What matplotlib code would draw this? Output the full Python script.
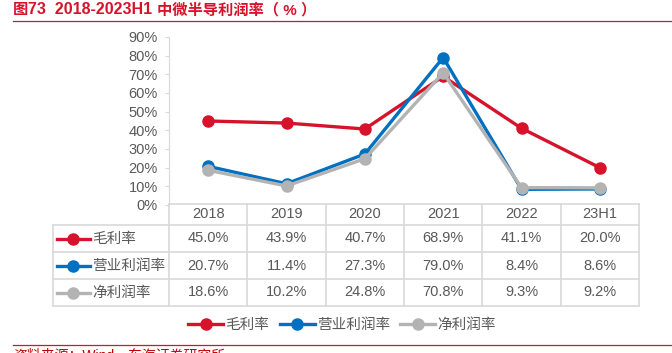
import matplotlib
matplotlib.use("Agg")
import matplotlib.pyplot as plt
from matplotlib.lines import Line2D

plt.rcParams['font.family'] = ['Liberation Sans', 'Noto Sans CJK SC', 'DejaVu Sans']

years = ['2018', '2019', '2020', '2021', '2022', '23H1']
series_names = ['毛利率', '营业利润率', '净利润率']
gross = [45.0, 43.9, 40.7, 68.9, 41.1, 20.0]
operating = [20.7, 11.4, 27.3, 79.0, 8.4, 8.6]
net = [18.6, 10.2, 24.8, 70.8, 9.3, 9.2]
colors = ['#D7132B', '#0070C0', '#B3B3B3']
yticks = [0, 10, 20, 30, 40, 50, 60, 70, 80, 90]

W, H = 672, 353
fig = plt.figure(figsize=(W / 100, H / 100), dpi=100)
txt = '#595959'
grid = '#D9D9D9'
fs = 10.5

# chart area
ax = fig.add_axes([169 / W, 1 - 205 / H, 470 / W, 168 / H])
x = list(range(len(years)))
for vals, c, name in zip([gross, operating, net], colors, series_names):
    ax.plot(x, vals, color=c, lw=2.4, marker='o', ms=8, label=name, zorder=3)
ax.set_xlim(-0.5, len(years) - 0.5)
ax.set_ylim(0, 90)
ax.set_yticks(yticks)
ax.set_yticklabels([f'{v}%' for v in yticks])
ax.tick_params(axis='y', labelsize=fs, colors=txt, length=3, width=0.8, color=grid, pad=5)
ax.tick_params(axis='x', bottom=False, labelbottom=False)
for s in ['top', 'right', 'bottom']:
    ax.spines[s].set_visible(False)
ax.spines['left'].set_color(grid)
ax.patch.set_alpha(0)

# data table below, sharing the category scale
tax = fig.add_axes([53 / W, 1 - 306 / H, 586 / W, 102 / H])
tax.set_xlim(-0.5 - 116 / 78.33, len(years) - 0.5)
rows = [204, 225, 252, 279, 306]
tax.set_ylim(rows[-1], rows[0])
tax.axis('off')
left = tax.get_xlim()[0]
right = len(years) - 0.5
kw = dict(color=grid, lw=1.2, clip_on=False)
tax.plot([-0.5, right], [rows[0], rows[0]], **kw)
for r in rows[1:]:
    tax.plot([left, right], [r, r], **kw)
for i in range(len(years) + 1):
    tax.plot([i - 0.5, i - 0.5], [rows[0], rows[-1]], **kw)
tax.plot([left, left], [rows[1], rows[-1]], **kw)
for i, yr in enumerate(years):
    tax.text(i, (rows[0] + rows[1]) / 2, yr, ha='center', va='center', fontsize=fs, color=txt)
for k, (vals, c, name) in enumerate(zip([gross, operating, net], colors, series_names)):
    yc = (rows[k + 1] + rows[k + 2]) / 2
    for i, v in enumerate(vals):
        tax.text(i, yc, f'{v:.1f}%', ha='center', va='center', fontsize=fs, color=txt)
    tax.plot([left + 0.05, left + 0.47], [yc, yc], color=c, lw=2.4, clip_on=False)
    tax.plot([left + 0.26], [yc], 'o', color=c, ms=8, clip_on=False)
    tax.text(left + 0.5, yc, name, ha='left', va='center', fontsize=fs, color=txt)

# legend
handles = [Line2D([0], [0], color=c, lw=2.4, marker='o', ms=8) for c in colors]
fig.legend(handles, series_names, loc='center', bbox_to_anchor=(342 / W, 1 - 325 / H),
           ncol=3, frameon=False, fontsize=fs, labelcolor=txt, handlelength=2.4,
           handletextpad=0.15, columnspacing=0.7)

# title in pieces (latin part is set larger than the CJK part)
red = '#D7132B'
renderer = fig.canvas.get_renderer()
xpos = 13
for piece, size in [('图', 11), ('73  2018-2023H1 ', 11.5), ('中微半导利润率（ % ）', 11)]:
    t = fig.text(xpos / W, 1 - 10 / H, piece, ha='left', va='center',
                 fontsize=size, fontweight='bold', color=red)
    xpos += t.get_window_extent(renderer).width

fig.add_artist(Line2D([13 / W, 1], [1 - 21 / H, 1 - 21 / H], color=red, lw=0.9))
fig.add_artist(Line2D([13 / W, 1], [1 - 345 / H, 1 - 345 / H], color=red, lw=0.9))
fig.text(13 / W, 1 - 348 / H, '资料来源：Wind，东海证券研究所', ha='left', va='top',
         fontsize=10, color='#C00000')

fig.savefig('out.png', dpi=100)
